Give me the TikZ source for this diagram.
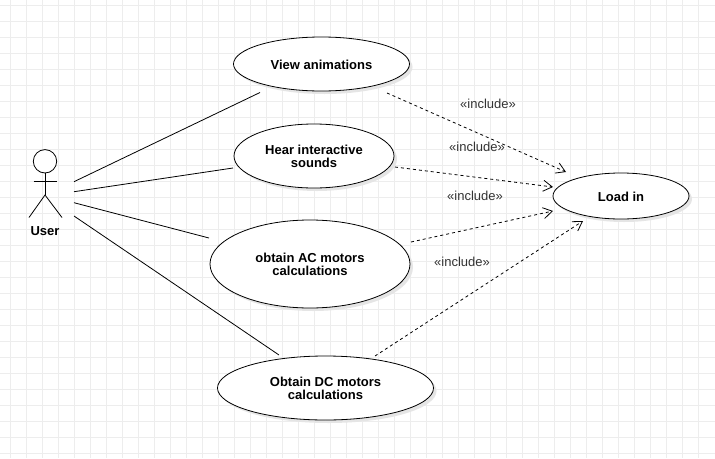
\documentclass[tikz,border=0pt]{standalone}
\usepackage{fontspec}
\setmainfont{Liberation Sans}
\usetikzlibrary{arrows.meta,shapes.geometric,shadows}

\tikzset{
  usecase/.style={draw,ellipse,fill=white,inner sep=0pt,align=center,line width=0.8pt,font=\bfseries\fontsize{13}{13}\selectfont,
    drop shadow={shadow xshift=3pt,shadow yshift=-3pt,fill=black!10,opacity=1}},
  oneline/.style={text height=11.5pt},
  assoc/.style={line width=0.8pt},
  incl/.style={line width=0.8pt,dash pattern=on 3pt off 3pt,-{Straight Barb[length=9pt,width=11pt]}},
  inclabel/.style={font=\fontsize{13}{13}\selectfont,text=black!80},
  gridline/.style={black!7,line width=1pt}
}

\begin{document}
\begin{tikzpicture}[x=1pt,y=-1pt]
    \useasboundingbox (0,0) rectangle (715,458);
    \fill[white] (0,0) rectangle (715,458);
    \foreach \gx in {10.5,26.5,...,714} \draw[gridline] (\gx,0) -- (\gx,458);
    \foreach \gy in {5.5,21.5,...,457} \draw[gridline] (0,\gy) -- (715,\gy);

    % use cases
    \node[usecase,oneline,minimum width=176pt,minimum height=54pt] (view) at (321.5,64) {View animations};
    \node[usecase,minimum width=160pt,minimum height=64pt] (hear) at (314,156) {Hear interactive\\sounds};
    \node[usecase,minimum width=200pt,minimum height=88pt] (ac) at (310,264) {obtain AC motors\\calculations};
    \node[usecase,minimum width=216pt,minimum height=64pt] (dc) at (325.5,388) {Obtain DC motors\\calculations};
    \node[usecase,oneline,minimum width=136pt,minimum height=46pt] (load) at (621,196) {Load in};

    % actor
    \node[draw,circle,fill=white,inner sep=0pt,minimum size=23.4pt,line width=0.8pt] (head) at (45,161.3) {};
    \coordinate (armL) at (33.7,181);
    \coordinate (armR) at (57,181);
    \coordinate (hip) at (45,195);
    \coordinate (legL) at (29,217.5);
    \coordinate (legR) at (62,217.5);
    \draw[assoc] (head.south) -- (hip);
    \draw[assoc] (armL) -- (armR);
    \draw[assoc] (legL) -- (hip) -- (legR);
    \node[font=\bfseries\fontsize{13}{13}\selectfont] (user) at (45,231.5) {User};

    % free ends of the associations
    \coordinate (u1) at (74,181.7);
    \coordinate (u2) at (74,191.7);
    \coordinate (u3) at (74,202.7);
    \coordinate (u4) at (74,216);
    \coordinate (viewL) at (260,92.5);
    \coordinate (hearL) at (233,168);
    \coordinate (acL) at (209,238);
    \coordinate (dcL) at (279,355);
    \draw[assoc] (u1) -- (viewL);
    \draw[assoc] (u2) -- (hearL);
    \draw[assoc] (u3) -- (acL);
    \draw[assoc] (u4) -- (dcL);

    % free ends of the includes
    \coordinate (viewR) at (387,93);
    \coordinate (hearR) at (395,167);
    \coordinate (acR) at (411,242);
    \coordinate (dcR) at (375,356);
    \coordinate (loadA) at (566,172);
    \coordinate (loadB) at (553,187);
    \coordinate (loadC) at (553,211);
    \coordinate (loadD) at (583,221);
    \draw[incl] (viewR) -- (loadA);
    \draw[incl] (hearR) -- (loadB);
    \draw[incl] (acR) -- (loadC);
    \draw[incl] (dcR) -- (loadD);

    \node[inclabel] (lbl1) at (488,104) {«include»};
    \node[inclabel] (lbl2) at (477,147) {«include»};
    \node[inclabel] (lbl3) at (475,196) {«include»};
    \node[inclabel] (lbl4) at (462,262) {«include»};
\end{tikzpicture}
\end{document}
